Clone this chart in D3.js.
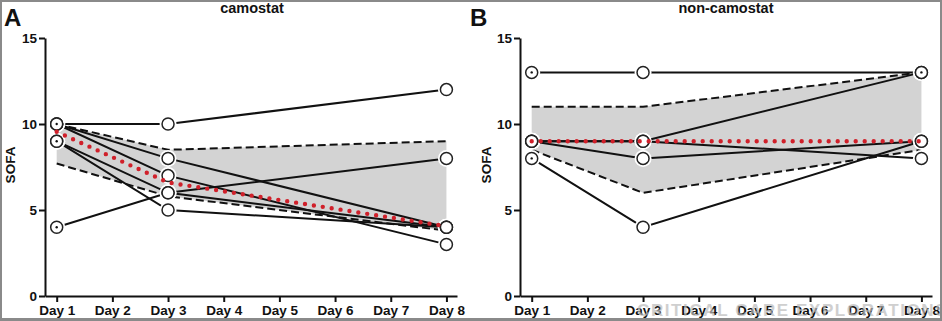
<!DOCTYPE html>
<html><head><meta charset="utf-8">
<script src="https://cdn.jsdelivr.net/npm/d3@7"></script>
<style>
body{margin:0;background:#fff}
svg{display:block}
text{font-family:"Liberation Sans",Arial,sans-serif;font-weight:bold;fill:#111}
</style>
</head><body><svg id="c" width="942" height="321"></svg>
<script>
// ---- data ----
const days = [1, 3, 8];
const dayTicks = [1, 2, 3, 4, 5, 6, 7, 8];
const yTicks = [0, 5, 10, 15];
const panelTitles = ["camostat", "non-camostat"];
const panelLetters = ["A", "B"];
const yLabel = "SOFA";

const camostatSubjects = [[10, 10, 12], [10, 8, 4], [10, 7, 3], [9, 6, 4], [9, 5, 4], [4, 6, 8]];
const camostatMean = [9.55, 6.6, 4.05];
const camostatUpper = [10, 8.5, 9.0];
const camostatLower = [7.7, 5.8, 3.8];
const camostatCentreDots = [[1, 10], [1, 9], [1, 4]];

const nonSubjects = [[13, 13, 13], [9, 9, 13], [9, 8, 9], [9, 9, 8], [8, 4, 9]];
const nonMean = [9, 9, 9];
const nonUpper = [11, 11, 13];
const nonLower = [8.5, 6.0, 8.5];
const nonCentreDots = [[1, 13], [1, 9], [1, 8], [8, 13]];

const watermark = "CRITICAL CARE EXPLORATIONS";

// ---- drawing ----
const svg = d3.select("#c");
const panels = [
  {subjects: camostatSubjects, mean: camostatMean, upper: camostatUpper, lower: camostatLower, dots: camostatCentreDots, x0: 45, x1: 457, title: panelTitles[0], letter: panelLetters[0], titleX: 252, letterX: 4, labelX: 15},
  {subjects: nonSubjects, mean: nonMean, upper: nonUpper, lower: nonLower, dots: nonCentreDots, x0: 520, x1: 932, title: panelTitles[1], letter: panelLetters[1], titleX: 726, letterX: 470, labelX: 491}
];

const y = d3.scaleLinear().domain([0, 15]).range([296, 38]);

panels.forEach(p => {
  const x = d3.scaleLinear().domain([0.79, 8.19]).range([p.x0, p.x1]);
  const g = svg.append("g");

  // band
  const band = days.map((d, i) => ({d, lo: p.lower[i], hi: p.upper[i]}));
  g.append("path").datum(band)
    .attr("d", d3.area().x(v => x(v.d)).y0(v => y(v.lo)).y1(v => y(v.hi)))
    .attr("fill", "#d3d3d3");

  const line = d3.line().x((v, i) => x(days[i])).y(v => y(v));
  [p.upper, p.lower].forEach(arr => {
    g.append("path").datum(arr).attr("d", line)
      .attr("fill", "none").attr("stroke", "#111").attr("stroke-width", 2)
      .attr("stroke-dasharray", "8,4");
  });

  p.subjects.forEach(s => {
    g.append("path").datum(s).attr("d", line)
      .attr("fill", "none").attr("stroke", "#111").attr("stroke-width", 2);
  });

  // markers
  const pts = [];
  p.subjects.forEach(s => s.forEach((v, i) => pts.push({d: days[i], v})));
  g.selectAll(".halo").data(pts).join("circle")
    .attr("cx", q => x(q.d)).attr("cy", q => y(q.v)).attr("r", 8.5).attr("fill", "#fff");
  g.selectAll(".mk").data(pts).join("circle")
    .attr("cx", q => x(q.d)).attr("cy", q => y(q.v)).attr("r", 6)
    .attr("fill", "#fff").attr("stroke", "#222").attr("stroke-width", 1.5);
  g.selectAll(".cd").data(p.dots).join("circle")
    .attr("cx", q => x(q[0])).attr("cy", q => y(q[1])).attr("r", 1.2).attr("fill", "#111");

  // mean dotted red
  g.append("path").datum(p.mean).attr("d", line)
    .attr("fill", "none").attr("stroke", "#d0202a").attr("stroke-width", 4.4)
    .attr("stroke-linecap", "round").attr("stroke-dasharray", "0,9");

  // axes
  const ax = g.append("g").attr("transform", "translate(0,296)")
    .call(d3.axisBottom(x).tickValues(dayTicks).tickFormat(d => "Day " + d).tickSize(6).tickSizeOuter(0).tickPadding(3));
  const ay = g.append("g").attr("transform", `translate(${p.x0},0)`)
    .call(d3.axisLeft(y).tickValues(yTicks).tickSize(6).tickSizeOuter(0).tickPadding(2));
  [ax, ay].forEach(a => {
    a.select(".domain").attr("stroke", "#111").attr("stroke-width", 2);
    a.selectAll(".tick line").attr("stroke", "#111").attr("stroke-width", 2);
    a.selectAll("text").attr("font-size", 13.5).attr("font-family", "'Liberation Sans',Arial,sans-serif").attr("font-weight", "bold").attr("fill", "#111");
  });

  g.append("text").attr("x", p.titleX).attr("y", 13).attr("text-anchor", "middle").attr("font-size", 14.5).text(p.title);
  g.append("text").attr("x", p.letterX).attr("y", 26).attr("font-size", 24).text(p.letter);
  g.append("text").attr("transform", `translate(${p.labelX},165) rotate(-90)`).attr("text-anchor", "middle").attr("font-size", 13.5).text(yLabel);
});

svg.append("text").attr("x", 637).attr("y", 316)
  .attr("font-family", "'Liberation Serif','Times New Roman',serif").attr("font-weight", "normal")
  .attr("font-size", 17).attr("letter-spacing", 1.6).style("fill", "#bcbcbc").attr("opacity", 0.7)
  .text(watermark);

// frame
svg.append("rect").attr("x", 1).attr("y", 1).attr("width", 940).attr("height", 318)
  .attr("fill", "none").attr("stroke", "#8a8a8a").attr("stroke-width", 2);
svg.append("rect").attr("x", 0).attr("y", 318).attr("width", 942).attr("height", 3).attr("fill", "#8a8a8a");
</script></body></html>
